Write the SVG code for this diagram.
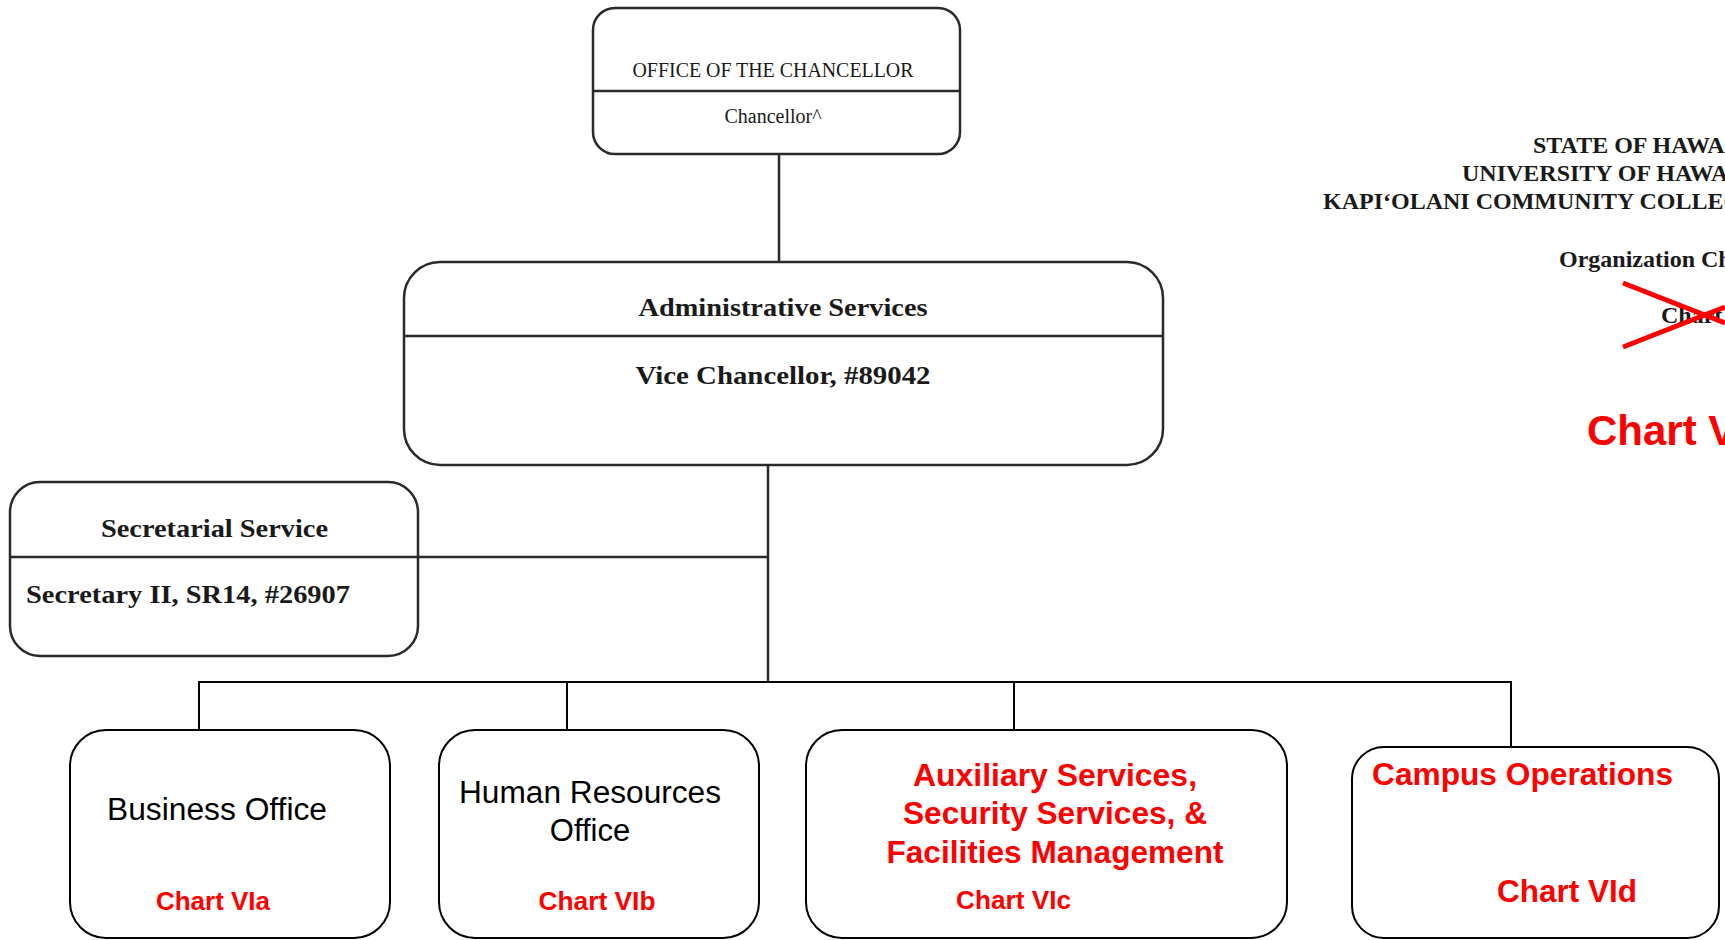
<svg xmlns="http://www.w3.org/2000/svg" width="1725" height="940" viewBox="0 0 1725 940">
<style>
.scan{fill:#fff;stroke:#2a2a2a;stroke-width:2.5}
.box{fill:#fff;stroke:#000;stroke-width:2}
.div{stroke:#2a2a2a;stroke-width:2.5}
.tr{font-family:"Liberation Serif","Times New Roman",serif;fill:#1a1a1a}
.tb{font-family:"Liberation Serif","Times New Roman",serif;font-weight:bold;fill:#1a1a1a}
.ar{font-family:"Liberation Sans",Arial,sans-serif;fill:#000}
.red{font-family:"Liberation Sans",Arial,sans-serif;font-weight:bold;fill:#ff0000}
.conn line{stroke:#000;stroke-width:2}
.conn line.scanl{stroke:#2a2a2a;stroke-width:2.5}
</style>
<rect width="1725" height="940" fill="#fff"/>
<g id="connectors" class="conn">
<line class="scanl" x1="779" y1="154" x2="779" y2="262"/>
<line class="scanl" x1="768" y1="465" x2="768" y2="682"/>
<line class="scanl" x1="418" y1="557" x2="768" y2="557"/>
<line x1="198" y1="682" x2="1512" y2="682"/>
<line x1="199" y1="682" x2="199" y2="730"/>
<line x1="567" y1="682" x2="567" y2="730"/>
<line x1="1014" y1="682" x2="1014" y2="730"/>
<line x1="1511" y1="682" x2="1511" y2="747"/>
</g>
<g id="header">
<text class="tb" x="1533" y="153" font-size="24">STATE OF HAWAI‘I</text>
<text class="tb" x="1462" y="181" font-size="24">UNIVERSITY OF HAWAI‘I</text>
<text class="tb" x="1323" y="209" font-size="24">KAPI‘OLANI COMMUNITY COLLEGE</text>
<text class="tb" x="1559" y="267" font-size="24">Organization Chart</text>
<text class="tb" x="1661" y="323" font-size="24">Chart VI</text>
<line x1="1623" y1="283" x2="1725" y2="323" stroke="#ff0000" stroke-width="5"/>
<line x1="1623" y1="347" x2="1725" y2="307" stroke="#ff0000" stroke-width="5"/>
<text class="red" x="1587" y="445" font-size="42">Chart VI</text>
</g>
<g id="chancellor">
<rect class="scan" x="593" y="8" width="367" height="146" rx="22"/>
<line class="div" x1="593" y1="91" x2="960" y2="91"/>
<text class="tr" x="773" y="77" font-size="20" text-anchor="middle" textLength="281" lengthAdjust="spacingAndGlyphs">OFFICE OF THE CHANCELLOR</text>
<text class="tr" x="773" y="123" font-size="20" text-anchor="middle">Chancellor^</text>
</g>
<g id="admin">
<rect class="scan" x="404" y="262" width="759" height="203" rx="36" stroke-width="3"/>
<line class="div" x1="404" y1="336" x2="1163" y2="336" stroke-width="3"/>
<text class="tb" x="783" y="316" font-size="25" text-anchor="middle" textLength="289" lengthAdjust="spacingAndGlyphs">Administrative Services</text>
<text class="tb" x="783" y="384" font-size="25" text-anchor="middle" textLength="295" lengthAdjust="spacingAndGlyphs">Vice Chancellor, #89042</text>
</g>
<g id="secretarial">
<rect class="scan" x="10" y="482" width="408" height="174" rx="30"/>
<line class="div" x1="10" y1="557" x2="418" y2="557"/>
<text class="tb" x="101" y="537" font-size="25" textLength="227" lengthAdjust="spacingAndGlyphs">Secretarial Service</text>
<text class="tb" x="26" y="603" font-size="25" textLength="324" lengthAdjust="spacingAndGlyphs">Secretary II, SR14, #26907</text>
</g>
<g id="business">
<rect class="box" x="70" y="730" width="320" height="208" rx="36"/>
<text class="ar" x="107" y="820" font-size="31" textLength="220" lengthAdjust="spacingAndGlyphs">Business Office</text>
<text class="red" x="213" y="910" font-size="26" text-anchor="middle" textLength="114" lengthAdjust="spacingAndGlyphs">Chart VIa</text>
</g>
<g id="hr">
<rect class="box" x="439" y="730" width="320" height="208" rx="36"/>
<text class="ar" x="590" y="803" font-size="31" text-anchor="middle" textLength="262" lengthAdjust="spacingAndGlyphs">Human Resources</text>
<text class="ar" x="590" y="841" font-size="31" text-anchor="middle">Office</text>
<text class="red" x="597" y="910" font-size="26" text-anchor="middle" textLength="117" lengthAdjust="spacingAndGlyphs">Chart VIb</text>
</g>
<g id="auxiliary">
<rect class="box" x="806" y="730" width="481" height="208" rx="36"/>
<text class="red" x="1055" y="786" font-size="31" text-anchor="middle" textLength="284" lengthAdjust="spacingAndGlyphs">Auxiliary Services,</text>
<text class="red" x="1055" y="824" font-size="31" text-anchor="middle" textLength="304" lengthAdjust="spacingAndGlyphs">Security Services, &amp;</text>
<text class="red" x="1055" y="863" font-size="31" text-anchor="middle" textLength="337" lengthAdjust="spacingAndGlyphs">Facilities Management</text>
<text class="red" x="956" y="909" font-size="26" textLength="115" lengthAdjust="spacingAndGlyphs">Chart VIc</text>
</g>
<g id="campus">
<rect class="box" x="1352" y="747" width="367" height="191" rx="32"/>
<text class="red" x="1372" y="785" font-size="31" textLength="301" lengthAdjust="spacingAndGlyphs">Campus Operations</text>
<text class="red" x="1497" y="902" font-size="31" textLength="140" lengthAdjust="spacingAndGlyphs">Chart VId</text>
</g>
</svg>
